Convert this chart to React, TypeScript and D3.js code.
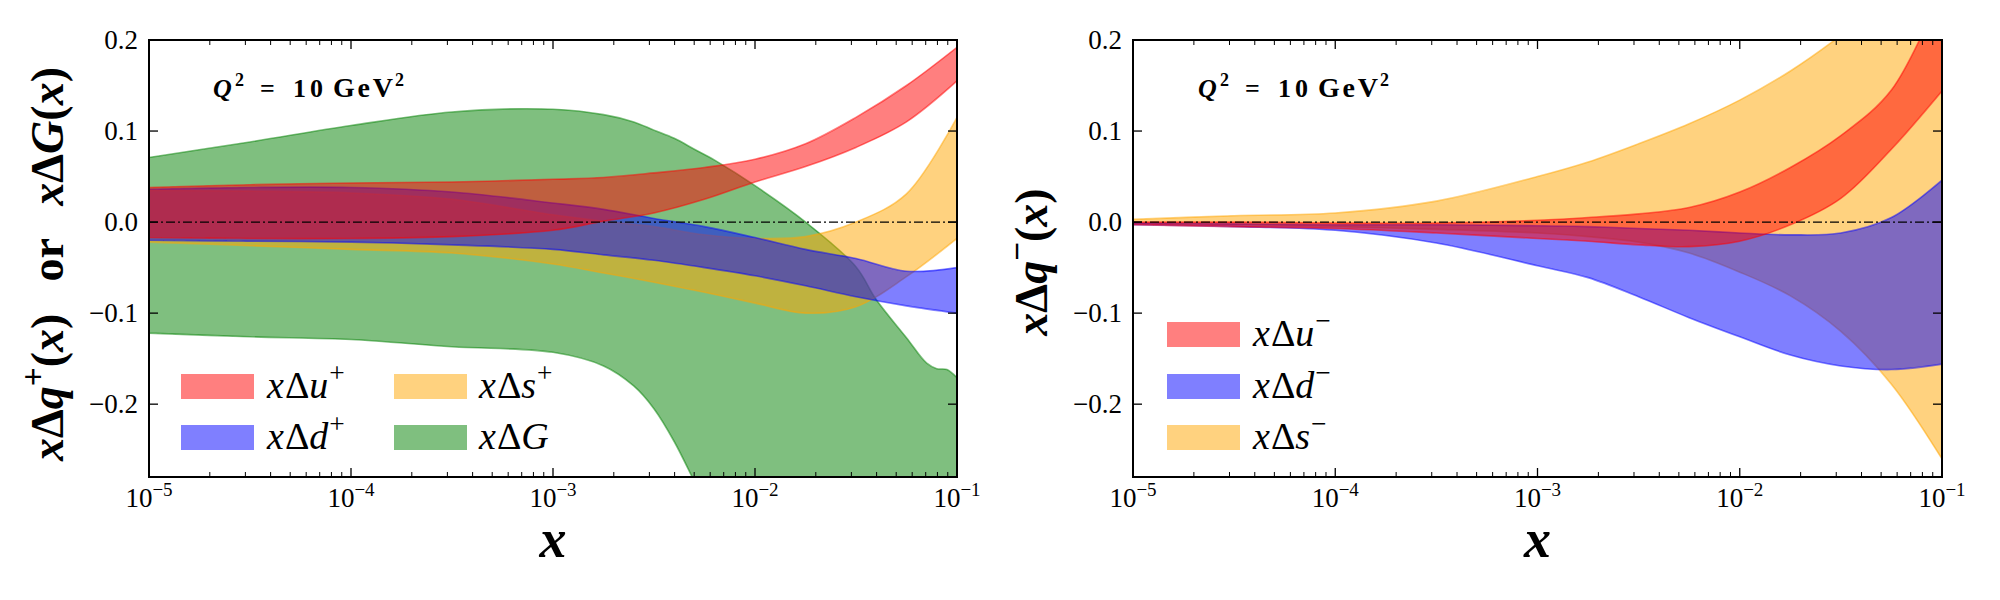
import React from 'react';
import * as d3 from 'd3';

const W = 2000;
const H = 600;
const FONT = "'Liberation Serif', 'Times New Roman', serif";

// ---- data ----
const xGrid = [1e-5, 3.16e-5, 1e-4, 3.16e-4, 1e-3, 1.78e-3, 3.16e-3, 5.62e-3, 1e-2, 1.78e-2, 3.16e-2, 5.62e-2, 1e-1];

// left panel: x Delta q^+ and x Delta G
const uPlusHi = [0.038, 0.041, 0.043, 0.044, 0.047, 0.049, 0.054, 0.060, 0.069, 0.086, 0.115, 0.150, 0.192];
const uPlusLo = [-0.017, -0.018, -0.018, -0.016, -0.009, 0.001, 0.010, 0.025, 0.044, 0.061, 0.082, 0.110, 0.155];
const dPlusHi = [0.036, 0.038, 0.038, 0.033, 0.021, 0.014, 0.004, -0.005, -0.017, -0.030, -0.040, -0.054, -0.050];
const dPlusLo = [-0.020, -0.021, -0.022, -0.025, -0.030, -0.036, -0.042, -0.050, -0.059, -0.070, -0.082, -0.092, -0.100];
const sPlusHi = [0.035, 0.034, 0.032, 0.025, 0.008, 0.001, -0.005, -0.014, -0.018, -0.016, 0.000, 0.031, 0.115];
const sPlusLo = [-0.022, -0.026, -0.030, -0.034, -0.046, -0.056, -0.066, -0.077, -0.089, -0.100, -0.093, -0.060, -0.018];

const gGrid = [1e-5, 3.16e-5, 1e-4, 3.16e-4, 1e-3, 1.78e-3, 2.51e-3, 3.16e-3, 3.98e-3, 5.01e-3, 6.31e-3, 1e-2, 1.78e-2, 3.16e-2, 3.98e-2, 5.62e-2, 7.08e-2, 7.94e-2, 8.91e-2, 1e-1];
const gHi = [0.071, 0.088, 0.106, 0.121, 0.124, 0.118, 0.110, 0.101, 0.092, 0.080, 0.068, 0.040, 0.000, -0.049, -0.085, -0.127, -0.155, -0.161, -0.162, -0.171];
const gLo = [-0.122, -0.126, -0.129, -0.137, -0.143, -0.158, -0.180, -0.205, -0.241, -0.285, -0.330, -0.400, -0.450, -0.500, -0.520, -0.550, -0.570, -0.580, -0.590, -0.600];

// right panel: x Delta q^-
const uMinusHi = [0.000, 0.000, -0.001, -0.001, 0.002, 0.005, 0.009, 0.016, 0.033, 0.060, 0.095, 0.145, 0.255];
const uMinusLo = [-0.003, -0.005, -0.007, -0.012, -0.018, -0.021, -0.025, -0.027, -0.021, -0.003, 0.026, 0.080, 0.144];
const dMinusHi = [-0.001, -0.002, -0.003, -0.003, -0.004, -0.005, -0.007, -0.009, -0.012, -0.014, -0.012, 0.005, 0.046];
const dMinusLo = [-0.003, -0.005, -0.009, -0.023, -0.048, -0.061, -0.082, -0.105, -0.126, -0.146, -0.158, -0.162, -0.156];
const sMinusHi = [0.003, 0.007, 0.010, 0.023, 0.050, 0.066, 0.086, 0.108, 0.134, 0.166, 0.205, 0.250, 0.300];
const sMinusLo = [-0.002, -0.003, -0.005, -0.008, -0.012, -0.016, -0.022, -0.034, -0.055, -0.081, -0.120, -0.178, -0.260];

const xMajorTicks = [1e-5, 1e-4, 1e-3, 1e-2, 1e-1];
const yTicks = [-0.2, -0.1, 0.0, 0.1, 0.2];
const yTickLabels = ['\u22120.2', '\u22120.1', '0.0', '0.1', '0.2'];
const xDomain = [1e-5, 1e-1];
const yDomain = [-0.28, 0.2];

const RED = '#ff0000';
const BLUE = '#0000ff';
const ORANGE = '#ffa500';
const GREEN = '#008000';

type Band = { key: string; color: string; xs: number[]; lo: number[]; hi: number[] };

const leftBands: Band[] = [
  { key: 'G', color: GREEN, xs: gGrid, lo: gLo, hi: gHi },
  { key: 's+', color: ORANGE, xs: xGrid, lo: sPlusLo, hi: sPlusHi },
  { key: 'd+', color: BLUE, xs: xGrid, lo: dPlusLo, hi: dPlusHi },
  { key: 'u+', color: RED, xs: xGrid, lo: uPlusLo, hi: uPlusHi },
];
const rightBands: Band[] = [
  { key: 's-', color: ORANGE, xs: xGrid, lo: sMinusLo, hi: sMinusHi },
  { key: 'd-', color: BLUE, xs: xGrid, lo: dMinusLo, hi: dMinusHi },
  { key: 'u-', color: RED, xs: xGrid, lo: uMinusLo, hi: uMinusHi },
];

const TOP = 40;
const BOTTOM = 477;

function LegendLabel({ x, y, q, sup, size }: { x: number; y: number; q: string; sup: string; size: number }) {
  return (
    <text x={x} y={y} fontSize={size} fontFamily={FONT}>
      <tspan fontStyle="italic">x</tspan>
      <tspan dx={1}>Δ</tspan>
      <tspan fontStyle="italic">{q}</tspan>
      {sup ? <tspan dx={1} dy={-size * 0.42} fontSize={size * 0.72}>{sup}</tspan> : null}
    </text>
  );
}

function QLabel({ x }: { x: number }) {
  const s = 26;
  const y = 97;
  return (
    <g fontSize={s} fontWeight="bold" fontFamily={FONT}>
      <text x={x} y={y} fontStyle="italic">Q</text>
      <text x={x + 22} y={y - 11} fontSize={18}>2</text>
      <text x={x + 47} y={y}>=</text>
      <text x={x + 80} y={y} textLength={30} lengthAdjust="spacing">10</text>
      <text x={x + 120} y={y} fontSize={28} textLength={60} lengthAdjust="spacing">GeV</text>
      <text x={x + 182} y={y - 11} fontSize={18}>2</text>
    </g>
  );
}

function Panel({ left, right, bands, id, children }: { left: number; right: number; bands: Band[]; id: string; children?: React.ReactNode }) {
  const x = d3.scaleLog().domain(xDomain).range([left, right]);
  const y = d3.scaleLinear().domain(yDomain).range([BOTTOM, TOP]);
  const minor: number[] = [];
  for (let e = -5; e < -1; e++) for (let k = 2; k <= 9; k++) minor.push(k * Math.pow(10, e));

  return (
    <g>
      <defs>
        <clipPath id={id}>
          <rect x={left} y={TOP} width={right - left} height={BOTTOM - TOP} />
        </clipPath>
      </defs>
      <g clipPath={`url(#${id})`}>
        {bands.map((b) => {
          const pts = b.xs.map((xv, i) => [xv, b.lo[i], b.hi[i]] as [number, number, number]);
          const area = d3
            .area<[number, number, number]>()
            .x((d) => x(d[0]))
            .y0((d) => y(d[1]))
            .y1((d) => y(d[2]))
            .curve(d3.curveCatmullRom.alpha(0.5));
          return (
            <path
              key={b.key}
              d={area(pts) || ''}
              fill={b.color}
              fillOpacity={0.5}
              stroke={b.color}
              strokeOpacity={0.5}
              strokeWidth={1.6}
            />
          );
        })}
        <line x1={left} x2={right} y1={y(0)} y2={y(0)} stroke="#000" strokeWidth={1.3} strokeDasharray="9,3,2,3" />
      </g>
      {xMajorTicks.map((t) => (
        <g key={'xM' + t}>
          <line x1={x(t)} x2={x(t)} y1={BOTTOM} y2={BOTTOM - 9} stroke="#000" strokeWidth={1.3} />
          <line x1={x(t)} x2={x(t)} y1={TOP} y2={TOP + 9} stroke="#000" strokeWidth={1.3} />
          <text x={x(t)} y={507} textAnchor="middle" fontSize={27} fontFamily={FONT}>
            10
            <tspan dy={-11} fontSize={19}>{`\u2212${-Math.round(Math.log10(t))}`}</tspan>
          </text>
        </g>
      ))}
      {minor.map((t) => (
        <g key={'xm' + t}>
          <line x1={x(t)} x2={x(t)} y1={BOTTOM} y2={BOTTOM - 5} stroke="#000" strokeWidth={1} />
          <line x1={x(t)} x2={x(t)} y1={TOP} y2={TOP + 5} stroke="#000" strokeWidth={1} />
        </g>
      ))}
      {yTicks.map((t, i) => (
        <g key={'y' + t}>
          <line x1={left} x2={left + 9} y1={y(t)} y2={y(t)} stroke="#000" strokeWidth={1.3} />
          <line x1={right} x2={right - 9} y1={y(t)} y2={y(t)} stroke="#000" strokeWidth={1.3} />
          <text x={left - 11} y={y(t) + 9} textAnchor="end" fontSize={27} fontFamily={FONT}>
            {yTickLabels[i]}
          </text>
        </g>
      ))}
      <rect x={left} y={TOP} width={right - left} height={BOTTOM - TOP} fill="none" stroke="#000" strokeWidth={2} />
      <text x={(left + right) / 2} y={557} textAnchor="middle" fontSize={54} fontWeight="bold" fontStyle="italic" fontFamily={FONT}>
        x
      </text>
      {children}
    </g>
  );
}

function LegendPatch({ x, y, color }: { x: number; y: number; color: string }) {
  return <rect x={x} y={y} width={73} height={25} fill={color} fillOpacity={0.5} />;
}

export default function App() {
  const ys = 46;
  return (
    <div style={{ position: 'absolute', left: 0, top: 0 }}>
      <svg width={W} height={H} viewBox={`0 0 ${W} ${H}`} style={{ display: 'block', background: '#fff' }}>
        <rect x={0} y={0} width={W} height={H} fill="#fff" />
        <Panel left={149} right={957} bands={leftBands} id="clipL">
          <QLabel x={213} />
          <LegendPatch x={181} y={374} color={RED} />
          <LegendLabel x={267} y={398} q="u" sup="+" size={38} />
          <LegendPatch x={181} y={425} color={BLUE} />
          <LegendLabel x={267} y={449} q="d" sup="+" size={38} />
          <LegendPatch x={394} y={374} color={ORANGE} />
          <LegendLabel x={479} y={398} q="s" sup="+" size={38} />
          <LegendPatch x={394} y={425} color={GREEN} />
          <LegendLabel x={479} y={449} q="G" sup="" size={38} />
          <text transform="translate(63,264) rotate(-90)" textAnchor="middle" fontSize={ys} fontWeight="bold" fontFamily={FONT}>
            <tspan fontStyle="italic">x</tspan>
            <tspan>Δ</tspan>
            <tspan fontStyle="italic">q</tspan>
            <tspan dy={-ys * 0.42} fontSize={ys * 0.72}>+</tspan>
            <tspan dy={ys * 0.42}>(</tspan>
            <tspan fontStyle="italic">x</tspan>
            <tspan>{')\u2002\u2009or\u2002\u2009'}</tspan>
            <tspan fontStyle="italic">x</tspan>
            <tspan>Δ</tspan>
            <tspan fontStyle="italic">G</tspan>
            <tspan>(</tspan>
            <tspan fontStyle="italic">x</tspan>
            <tspan>)</tspan>
          </text>
        </Panel>
        <Panel left={1133} right={1942} bands={rightBands} id="clipR">
          <QLabel x={1198} />
          <LegendPatch x={1167} y={322} color={RED} />
          <LegendLabel x={1253} y={346} q="u" sup={'\u2212'} size={38} />
          <LegendPatch x={1167} y={374} color={BLUE} />
          <LegendLabel x={1253} y={398} q="d" sup={'\u2212'} size={38} />
          <LegendPatch x={1167} y={425} color={ORANGE} />
          <LegendLabel x={1253} y={449} q="s" sup={'\u2212'} size={38} />
          <text transform="translate(1047,262) rotate(-90)" textAnchor="middle" fontSize={ys} fontWeight="bold" fontFamily={FONT}>
            <tspan fontStyle="italic">x</tspan>
            <tspan>Δ</tspan>
            <tspan fontStyle="italic">q</tspan>
            <tspan dy={-ys * 0.42} fontSize={ys * 0.72}>{'\u2212'}</tspan>
            <tspan dy={ys * 0.42}>(</tspan>
            <tspan fontStyle="italic">x</tspan>
            <tspan>)</tspan>
          </text>
        </Panel>
      </svg>
    </div>
  );
}
